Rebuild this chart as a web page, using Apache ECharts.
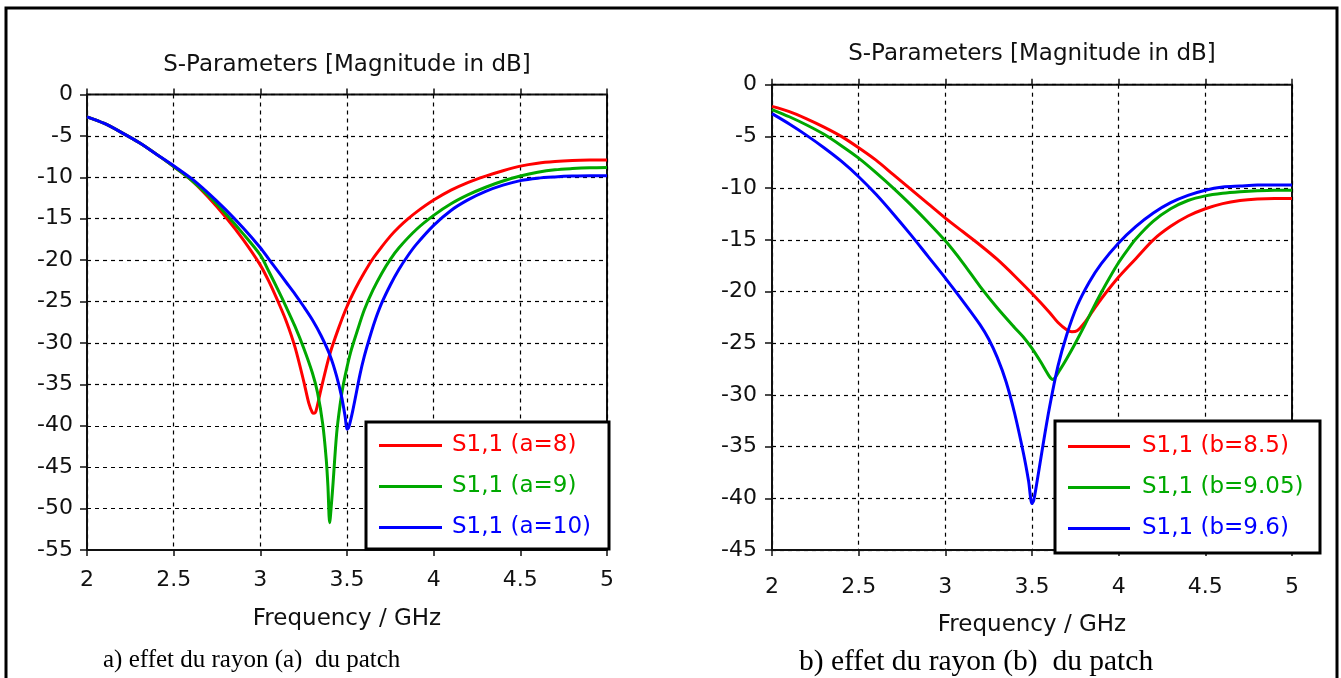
<!DOCTYPE html>
<html>
<head>
<meta charset="utf-8">
<script src="https://cdn.jsdelivr.net/npm/echarts@6/dist/echarts.min.js"></script>
<style>
  html, body { margin: 0; padding: 0; background: #fff; }
  #chart { width: 1341px; height: 678px; }
</style>
</head>
<body>
<div id="chart"></div>
<script>
// ---- axis ticks ----
const freqTicks = ['2', '2.5', '3', '3.5', '4', '4.5', '5'];

// ---- (a) effect of patch radius a : S11 in dB ----
const freqA8  = [2.0, 2.1, 2.2, 2.3, 2.4, 2.5, 2.6, 2.7, 2.8, 2.9, 3.0, 3.05, 3.1, 3.15, 3.2, 3.25, 3.28, 3.3, 3.31, 3.32, 3.35, 3.4, 3.45, 3.5, 3.55, 3.6, 3.65, 3.7, 3.75, 3.8, 3.85, 3.9, 4.0, 4.1, 4.2, 4.3, 4.4, 4.5, 4.6, 4.7, 4.8, 4.9, 5.0];
const s11A8   = [-2.7, -3.5, -4.6, -5.8, -7.2, -8.7, -10.3, -12.4, -14.8, -17.5, -20.6, -22.6, -24.9, -27.4, -30.5, -34.6, -37.3, -38.4, -38.5, -38.3, -35.6, -31.4, -28.3, -25.6, -23.4, -21.5, -19.8, -18.4, -17.1, -16.0, -15.05, -14.2, -12.75, -11.55, -10.6, -9.85, -9.2, -8.65, -8.3, -8.1, -7.98, -7.92, -7.9];

const freqA9  = [2.0, 2.1, 2.2, 2.3, 2.4, 2.5, 2.6, 2.7, 2.8, 2.9, 3.0, 3.05, 3.1, 3.15, 3.2, 3.25, 3.3, 3.33, 3.36, 3.38, 3.39, 3.4, 3.41, 3.42, 3.44, 3.46, 3.48, 3.52, 3.56, 3.6, 3.65, 3.7, 3.75, 3.8, 3.9, 4.0, 4.1, 4.2, 4.3, 4.4, 4.5, 4.6, 4.7, 4.8, 4.9, 5.0];
const s11A9   = [-2.7, -3.5, -4.6, -5.8, -7.2, -8.7, -10.3, -12.2, -14.4, -16.8, -19.4, -21.4, -23.5, -25.7, -28.0, -30.6, -33.6, -36.0, -39.8, -44.0, -47.3, -51.7, -49.5, -46.8, -41.0, -37.5, -34.9, -31.2, -28.5, -26.0, -23.6, -21.6, -19.9, -18.5, -16.3, -14.6, -13.2, -12.1, -11.2, -10.45, -9.85, -9.4, -9.1, -8.95, -8.85, -8.8];

const freqA10 = [2.0, 2.1, 2.2, 2.3, 2.4, 2.5, 2.6, 2.7, 2.8, 2.9, 3.0, 3.05, 3.1, 3.15, 3.2, 3.25, 3.3, 3.35, 3.4, 3.44, 3.47, 3.49, 3.5, 3.51, 3.535, 3.575, 3.6, 3.63, 3.66, 3.7, 3.75, 3.8, 3.85, 3.9, 4.0, 4.1, 4.2, 4.3, 4.4, 4.5, 4.6, 4.7, 4.8, 4.9, 5.0];
const s11A10  = [-2.7, -3.5, -4.6, -5.8, -7.2, -8.6, -10.1, -11.9, -13.9, -16.1, -18.5, -19.9, -21.3, -22.7, -24.1, -25.6, -27.2, -29.1, -31.4, -34.0, -36.6, -39.0, -40.4, -40.2, -38.0, -33.8, -31.6, -29.4, -27.4, -25.2, -23.0, -21.1, -19.5, -18.1, -15.8, -14.0, -12.7, -11.7, -10.95, -10.4, -10.1, -9.95, -9.85, -9.8, -9.8];

// ---- (b) effect of patch radius b : S11 in dB ----
const freqB85  = [2.0, 2.1, 2.2, 2.3, 2.4, 2.5, 2.6, 2.7, 2.8, 2.9, 3.0, 3.1, 3.2, 3.3, 3.4, 3.5, 3.6, 3.65, 3.7, 3.73, 3.76, 3.8, 3.85, 3.9, 4.0, 4.1, 4.2, 4.3, 4.4, 4.5, 4.6, 4.7, 4.8, 4.9, 5.0];
const s11B85   = [-2.1, -2.6, -3.3, -4.1, -5.0, -6.1, -7.3, -8.7, -10.1, -11.5, -12.9, -14.2, -15.5, -16.9, -18.5, -20.2, -22.0, -23.0, -23.7, -23.9, -23.8, -23.1, -21.9, -20.7, -18.6, -16.8, -15.0, -13.7, -12.7, -12.0, -11.5, -11.2, -11.05, -11.0, -11.0];

const freqB905 = [2.0, 2.1, 2.2, 2.3, 2.4, 2.5, 2.6, 2.7, 2.8, 2.9, 3.0, 3.1, 3.2, 3.3, 3.4, 3.45, 3.5, 3.55, 3.6, 3.62, 3.66, 3.7, 3.75, 3.8, 3.85, 3.9, 3.95, 4.0, 4.05, 4.1, 4.2, 4.3, 4.4, 4.5, 4.6, 4.7, 4.8, 4.9, 5.0];
const s11B905  = [-2.4, -3.1, -3.9, -4.8, -5.9, -7.1, -8.5, -10.0, -11.6, -13.3, -15.1, -17.2, -19.5, -21.6, -23.5, -24.4, -25.5, -26.8, -28.2, -28.5, -27.6, -26.5, -25.0, -23.4, -21.7, -20.1, -18.6, -17.2, -16.0, -14.9, -13.2, -12.0, -11.2, -10.75, -10.5, -10.35, -10.25, -10.2, -10.2];

const freqB96  = [2.0, 2.1, 2.2, 2.3, 2.4, 2.5, 2.6, 2.7, 2.8, 2.9, 3.0, 3.1, 3.2, 3.25, 3.3, 3.35, 3.4, 3.45, 3.48, 3.5, 3.51, 3.53, 3.56, 3.6, 3.65, 3.7, 3.76, 3.83, 3.9, 4.0, 4.1, 4.2, 4.3, 4.4, 4.5, 4.6, 4.7, 4.8, 4.9, 5.0];
const s11B96   = [-2.8, -3.8, -4.9, -6.1, -7.4, -8.9, -10.6, -12.5, -14.5, -16.6, -18.7, -20.9, -23.2, -24.6, -26.4, -28.7, -31.8, -35.6, -38.3, -40.5, -40.2, -38.3, -35.2, -31.3, -27.2, -24.2, -21.4, -19.1, -17.3, -15.3, -13.7, -12.4, -11.4, -10.7, -10.2, -9.9, -9.8, -9.7, -9.7, -9.7];

const seriesNamesA = ['S1,1 (a=8)', 'S1,1 (a=9)', 'S1,1 (a=10)'];
const seriesNamesB = ['S1,1 (b=8.5)', 'S1,1 (b=9.05)', 'S1,1 (b=9.6)'];
const chartTitle = 'S-Parameters [Magnitude in dB]';
const xName = 'Frequency / GHz';
const captionA = 'a) effet du rayon (a)  du patch';
const captionB = 'b) effet du rayon (b)  du patch';

const colors = ['#ff0000', '#00a800', '#0000ff'];
const FONT = 'DejaVu Sans';

function pairs(f, v) { return f.map((x, i) => [x, v[i]]); }

function mainX(gridIndex, labelMargin, nameGap) {
  return {
    type: 'value', gridIndex, min: 2, max: 5, interval: 0.5,
    name: xName, nameLocation: 'middle', nameGap,
    nameTextStyle: { fontFamily: FONT, fontSize: 23, color: '#111' },
    axisLine: { show: true, onZero: false, lineStyle: { color: '#111', width: 2 } },
    axisTick: { show: true, length: 6, lineStyle: { color: '#111', width: 1.5 } },
    axisLabel: { margin: labelMargin, fontFamily: FONT, fontSize: 22, color: '#111',
                 formatter: v => freqTicks.find(t => Math.abs(parseFloat(t) - v) < 1e-9) || '' },
    splitLine: { show: true, lineStyle: { color: '#000', type: [4, 4], width: 1.2 } }
  };
}
function innerX(gridIndex) {
  return {
    type: 'value', gridIndex, min: 2, max: 5, interval: 0.5, position: 'bottom',
    axisLine: { show: false }, axisLabel: { show: false }, splitLine: { show: false },
    axisTick: { show: true, inside: true, length: 6, lineStyle: { color: '#111', width: 1.5 } }
  };
}
function mainY(gridIndex, minV, labelMargin) {
  return {
    type: 'value', gridIndex, min: minV, max: 0, interval: 5,
    axisLine: { show: true, onZero: false, lineStyle: { color: '#111', width: 2 } },
    axisTick: { show: true, length: 7, lineStyle: { color: '#111', width: 1.5 } },
    axisLabel: { margin: labelMargin, fontFamily: FONT, fontSize: 22, color: '#111' },
    splitLine: { show: true, lineStyle: { color: '#000', type: [4, 4], width: 1.2 } }
  };
}

function curve(name, f, v, color, xi, yi) {
  return {
    name, type: 'line', xAxisIndex: xi, yAxisIndex: yi,
    data: pairs(f, v), symbol: 'none', smooth: 0.3,
    lineStyle: { color, width: 3 }, itemStyle: { color }, z: 2
  };
}

function legend(names, left, top, textPad, itemWidth) {
  return {
    orient: 'vertical', left, top, padding: 0, itemGap: 18,
    itemWidth, itemHeight: 3, icon: 'rect', z: 6,
    selectedMode: false,
    textStyle: { fontFamily: FONT, fontSize: 23, padding: [0, 0, 0, textPad] },
    data: names.map((n, i) => ({ name: n, textStyle: { color: colors[i] } }))
  };
}

const chart = echarts.init(document.getElementById('chart'), null, { renderer: 'canvas' });
chart.setOption({
  animation: false,
  backgroundColor: '#fff',
  title: [
    { text: chartTitle, left: 347, top: 54, textAlign: 'center', padding: 0,
      textStyle: { fontFamily: FONT, fontSize: 23, fontWeight: 'normal', color: '#111' } },
    { text: chartTitle, left: 1032, top: 43, textAlign: 'center', padding: 0,
      textStyle: { fontFamily: FONT, fontSize: 23, fontWeight: 'normal', color: '#111' } }
  ],
  grid: [
    { left: 87, top: 94.5, width: 520, height: 455.5, show: true, borderColor: '#111', borderWidth: 2, backgroundColor: 'transparent' },
    { left: 772, top: 84.7, width: 520, height: 465.3, show: true, borderColor: '#111', borderWidth: 2, backgroundColor: 'transparent' }
  ],
  xAxis: [mainX(0, 19, 58), innerX(0), mainX(1, 26, 64), innerX(1)],
  yAxis: [mainY(0, -55, 14), mainY(1, -45, 15)],
  legend: [
    legend(seriesNamesA, 379, 434, 5, 63),
    legend(seriesNamesB, 1068, 435, 7, 62)
  ],
  series: [
    curve(seriesNamesA[0], freqA8, s11A8, colors[0], 0, 0),
    curve(seriesNamesA[1], freqA9, s11A9, colors[1], 0, 0),
    curve(seriesNamesA[2], freqA10, s11A10, colors[2], 0, 0),
    curve(seriesNamesB[0], freqB85, s11B85, colors[0], 2, 1),
    curve(seriesNamesB[1], freqB905, s11B905, colors[1], 2, 1),
    curve(seriesNamesB[2], freqB96, s11B96, colors[2], 2, 1)
  ],
  graphic: [
    { type: 'rect', z: 0, silent: true, shape: { x: 6, y: 8, width: 1331, height: 700 },
      style: { fill: 'none', stroke: '#000', lineWidth: 3 } },
    { type: 'rect', z: 5, silent: true, shape: { x: 366, y: 422, width: 243, height: 127 },
      style: { fill: '#fff', stroke: '#000', lineWidth: 3 } },
    { type: 'rect', z: 5, silent: true, shape: { x: 1055, y: 421, width: 265, height: 132 },
      style: { fill: '#fff', stroke: '#000', lineWidth: 3 } },
    { type: 'text', z: 5, silent: true, style: { text: captionA, x: 103, y: 660,
      font: '25px "Liberation Serif"', fill: '#000', verticalAlign: 'middle' } },
    { type: 'text', z: 5, silent: true, style: { text: captionB, x: 799, y: 662,
      font: '29.5px "Liberation Serif"', fill: '#000', verticalAlign: 'middle' } }
  ]
});
</script>
</body>
</html>
